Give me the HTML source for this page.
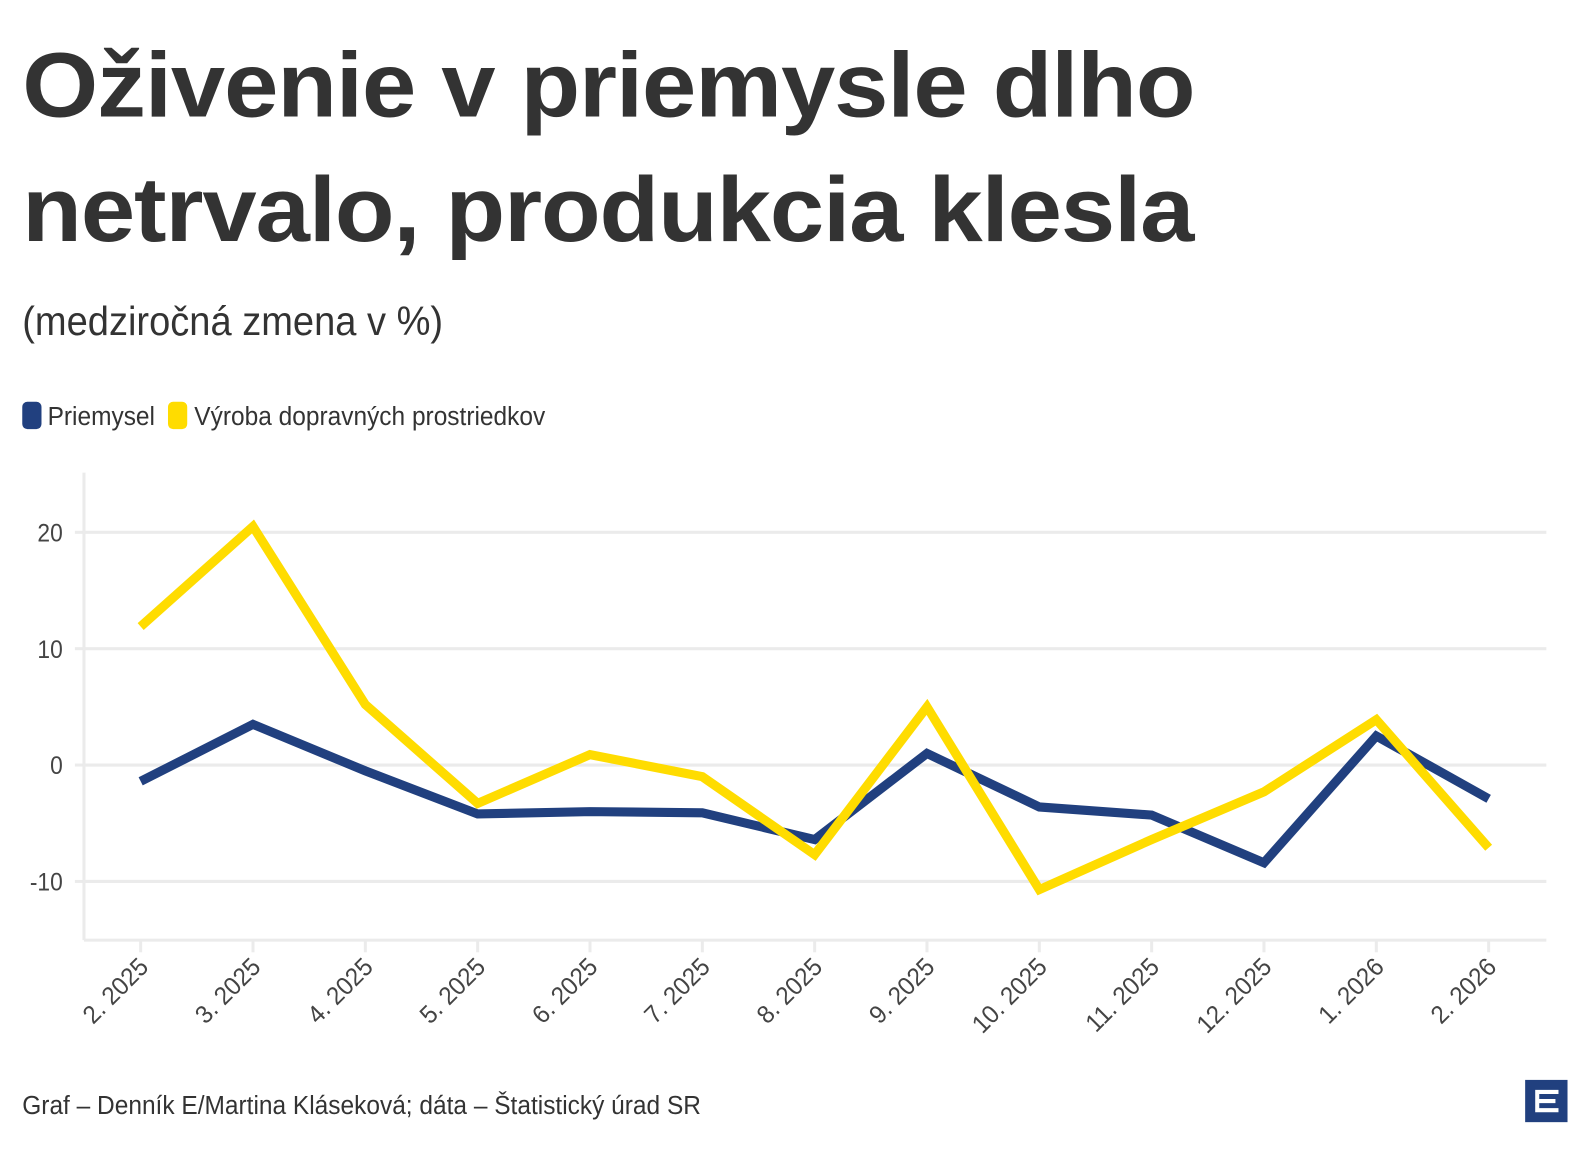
<!DOCTYPE html>
<html><head><meta charset="utf-8"><style>
body{margin:0;width:1588px;height:1150px;background:#fff;overflow:hidden;font-family:"Liberation Sans",sans-serif;color:#333}
#wrap{position:absolute;left:0;top:0;width:1570px;height:1140px;transform-origin:0 0;transform:scale(1.012)}
.t{position:absolute;left:22px;font-weight:bold;font-size:91px;line-height:120px;color:#333;letter-spacing:-1px;white-space:nowrap;transform-origin:0 0;transform:scaleX(1.06)}
.sub{position:absolute;left:22px;top:296px;font-size:40px;color:#333;transform-origin:0 0;transform:scaleX(0.94);white-space:nowrap}
.leg{position:absolute;top:396px;font-size:26px;color:#333;transform-origin:0 0;transform:scaleX(0.93);white-space:nowrap}
.sw{position:absolute;top:397px;width:19px;height:27px;border-radius:5px}
.src{position:absolute;left:22px;top:1077px;font-size:26px;color:#333;transform-origin:0 0;transform:scaleX(0.93);white-space:nowrap}
</style></head><body>
<div id="wrap">
<div class="t" style="top:25px">Oživenie v priemysle dlho</div>
<div class="t" style="top:148px">netrvalo, produkcia klesla</div>
<div class="sub">(medziročná zmena v %)</div>
<div class="sw" style="left:22px;background:#21407f"></div>
<div class="leg" style="left:47px">Priemysel</div>
<div class="sw" style="left:166px;background:#ffdc00"></div>
<div class="leg" style="left:192px">Výroba dopravných prostriedkov</div>
<svg id="chart" width="1570" height="1140" style="position:absolute;left:0;top:0"></svg>
<div class="src">Graf – Denník E/Martina Kláseková; dáta – Štatistický úrad SR</div>
<svg style="position:absolute;left:1507px;top:1067px" width="42" height="42">
<rect width="42" height="42" fill="#21407f"/>
<path d="M10 10H33V14H14V19H30V23H14V28H33V32H10Z" fill="#fff"/>
</svg>
</div>
<script>
const categories=["2. 2025","3. 2025","4. 2025","5. 2025","6. 2025","7. 2025","8. 2025","9. 2025","10. 2025","11. 2025","12. 2025","1. 2026","2. 2026"];
const priemysel=[-1.4,3.5,-0.5,-4.2,-4.0,-4.1,-6.4,1.0,-3.6,-4.3,-8.4,2.5,-2.9];
const vyroba=[11.9,20.5,5.2,-3.3,0.9,-1.0,-7.7,5.0,-10.7,-6.4,-2.3,3.9,-7.1];
const yTicks=[20,10,0,-10];
const NS="http://www.w3.org/2000/svg";
const svg=document.getElementById('chart');
const x=i=>139+i*(1471-139)/(categories.length-1);
const y=v=>756-v*11.5;
function el(t,a){const e=document.createElementNS(NS,t);for(const k in a)e.setAttribute(k,a[k]);svg.appendChild(e);return e;}
yTicks.forEach(v=>{
 const g=el('line',{x1:83,x2:1528,y1:y(v),y2:y(v),stroke:'#ebebeb','stroke-width':3});
 
 
 const tk=el('line',{x1:74,x2:83,y1:y(v),y2:y(v),stroke:'#ebebeb','stroke-width':3});
 
 
 const t=el('text',{x:62,y:y(v)+9,'text-anchor':'end','font-size':25,fill:'#444','font-family':'Liberation Sans, sans-serif',transform:`translate(62 0) scale(0.9 1) translate(-62 0)`});
 t.textContent=v;
 
 
});
const ax=el('line',{x1:83,x2:83,y1:467,y2:929,stroke:'#ebebeb','stroke-width':3});


const bx=el('line',{x1:83,x2:1528,y1:929,y2:929,stroke:'#ebebeb','stroke-width':3});


categories.forEach((c,i)=>{
 const tk=el('line',{x1:x(i),x2:x(i),y1:929,y2:941,stroke:'#ebebeb','stroke-width':3});
 
 
 const t=el('text',{x:0,y:0,'text-anchor':'end','font-size':25,fill:'#444','font-family':'Liberation Sans, sans-serif',transform:`translate(${x(i)+9} 957) rotate(-45) scale(0.95 1)`});
 t.textContent=c;
 
 
});
function line(d,col,name){
 const p=el('polyline',{points:d.map((v,i)=>x(i)+','+y(v)).join(' '),fill:'none',stroke:col,'stroke-width':9,'stroke-linejoin':'miter'});
 
 
}
line(priemysel,'#21407f','series-priemysel');
line(vyroba,'#ffdc00','series-vyroba');
</script>
</body></html>
